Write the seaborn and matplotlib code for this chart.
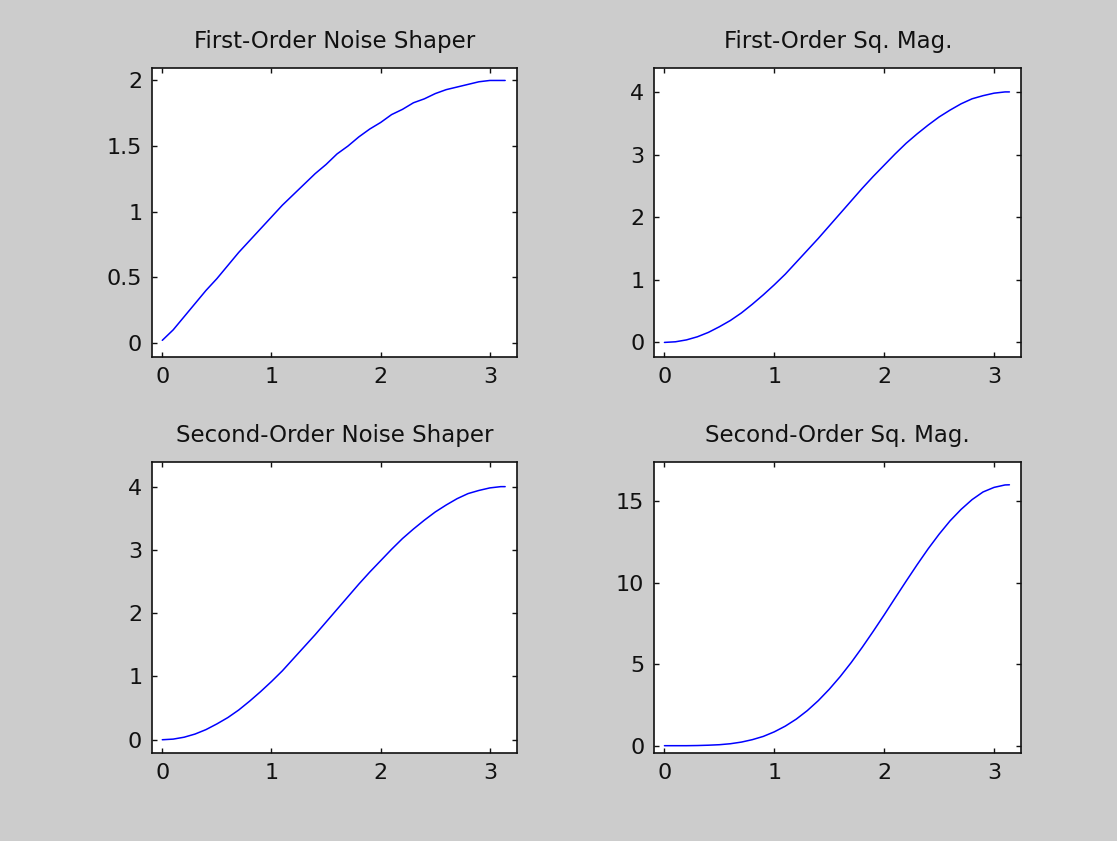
import matplotlib
matplotlib.use("Agg")
import matplotlib.pyplot as plt
import pandas as pd
import seaborn as sns

# frequency samples (rad)
w = [0.0, 0.1, 0.2, 0.3, 0.4, 0.5, 0.6, 0.7, 0.8, 0.9, 1.0, 1.1, 1.2, 1.3, 1.4, 1.5,
     1.6, 1.7, 1.8, 1.9, 2.0, 2.1, 2.2, 2.3, 2.4, 2.5, 2.6, 2.7, 2.8, 2.9, 3.0, 3.1, 3.14]

first_shaper = [0.02, 0.10, 0.20, 0.30, 0.40, 0.49, 0.59, 0.69, 0.78, 0.87, 0.96, 1.05,
                1.13, 1.21, 1.29, 1.36, 1.44, 1.50, 1.57, 1.63, 1.68, 1.74, 1.78, 1.83,
                1.86, 1.90, 1.93, 1.95, 1.97, 1.99, 2.00, 2.00, 2.00]

first_sqmag = [0.0, 0.01, 0.04, 0.09, 0.16, 0.25, 0.35, 0.47, 0.61, 0.76, 0.92, 1.09,
               1.28, 1.47, 1.66, 1.86, 2.06, 2.26, 2.46, 2.65, 2.83, 3.01, 3.18, 3.33,
               3.47, 3.60, 3.71, 3.81, 3.89, 3.94, 3.98, 4.00, 4.00]

second_shaper = [0.0, 0.01, 0.04, 0.09, 0.16, 0.25, 0.35, 0.47, 0.61, 0.76, 0.92, 1.09,
                 1.28, 1.47, 1.66, 1.86, 2.06, 2.26, 2.46, 2.65, 2.83, 3.01, 3.18, 3.33,
                 3.47, 3.60, 3.71, 3.81, 3.89, 3.94, 3.98, 4.00, 4.00]

second_sqmag = [0.0, 0.0, 0.0, 0.01, 0.03, 0.06, 0.12, 0.22, 0.37, 0.57, 0.85, 1.20,
                1.63, 2.15, 2.76, 3.46, 4.24, 5.10, 6.03, 7.01, 8.02, 9.06, 10.09, 11.10,
                12.07, 12.97, 13.79, 14.49, 15.09, 15.56, 15.84, 15.99, 16.00]

titles = ["First-Order Noise Shaper", "First-Order Sq. Mag.",
          "Second-Order Noise Shaper", "Second-Order Sq. Mag."]
yticks = [[0, 0.5, 1, 1.5, 2], [0, 1, 2, 3, 4], [0, 1, 2, 3, 4], [0, 5, 10, 15]]
ytick_labels = [["0", "0.5", "1", "1.5", "2"], ["0", "1", "2", "3", "4"],
                ["0", "1", "2", "3", "4"], ["0", "5", "10", "15"]]
xticks = [0, 1, 2, 3]

sns.set_theme(style="ticks")
plt.rcParams["font.family"] = ["DejaVu Sans"]

fig = plt.figure(figsize=(11.17, 8.41), dpi=100, facecolor="#cccccc")

# axes boxes in figure fractions (left, bottom, width, height)
boxes = [[0.136, 0.5755, 0.327, 0.3435], [0.5855, 0.5755, 0.329, 0.3435],
         [0.136, 0.1046, 0.327, 0.3461], [0.5855, 0.1046, 0.329, 0.3461]]
ylims = [(-0.107, 2.094), (-0.233, 4.38), (-0.21, 4.39), (-0.45, 17.4)]

series = [first_shaper, first_sqmag, second_shaper, second_sqmag]

for i in range(4):
    ax = fig.add_axes(boxes[i])
    ax.set_facecolor("white")
    df = pd.DataFrame({"w": w, "mag": series[i]})
    sns.lineplot(data=df, x="w", y="mag", ax=ax, color="#0000ff", linewidth=1.1)
    ax.set_xlim(-0.095, 3.25)
    ax.set_ylim(*ylims[i])
    ax.set_xticks(xticks)
    ax.set_xticklabels([str(t) for t in xticks])
    ax.set_yticks(yticks[i])
    ax.set_yticklabels(ytick_labels[i])
    ax.set_xlabel("")
    ax.set_ylabel("")
    ax.set_title(titles[i], fontsize=16.5, color="#111111", pad=14.5)
    ax.tick_params(direction="in", top=True, right=True, length=3.5, width=1,
                   labelsize=16, colors="#111111", pad=7)
    for s in ax.spines.values():
        s.set_visible(True)
        s.set_color("#111111")
        s.set_linewidth(1.2)

fig.savefig("out.png", dpi=100, facecolor=fig.get_facecolor())
